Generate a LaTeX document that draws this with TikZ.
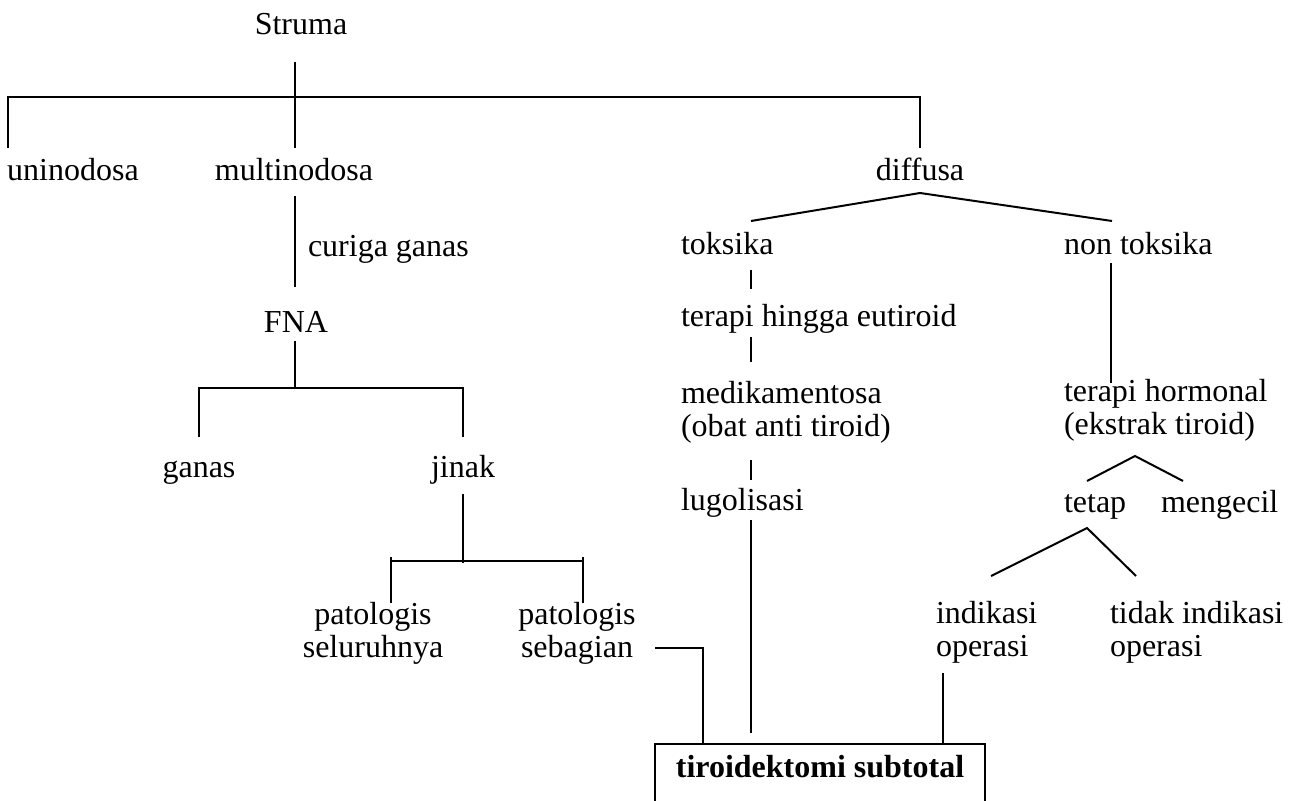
\documentclass[tikz,border=0pt]{standalone}
\usepackage{fontspec}
\setmainfont{Liberation Serif}
\begin{document}
\begin{tikzpicture}[
  x=0.5pt, y=-0.5pt,
  line width=1pt,
  every node/.style={inner sep=0pt, font=\fontsize{16pt}{16.5pt}\selectfont},
  lab/.style={anchor=base},
  labl/.style={anchor=base west, align=left},
  labc/.style={anchor=base, align=center},
  result/.style={draw, line width=1pt, anchor=base, minimum width=165pt,
    text height=16.5pt, text depth=20pt, font=\fontsize{16pt}{16.5pt}\selectfont\bfseries}]

  \useasboundingbox (0,0) rectangle (1293,801);

  % nodes (two-line nodes sit on their last line)
  \node[lab] (struma) at (301,35) {Struma};
  \node[lab] (uni) at (73,181) {uninodosa};
  \node[lab] (multi) at (294,181) {multinodosa};
  \node[lab] (diffusa) at (920,181) {diffusa};
  \node[labl] (curiga) at (307,257) {curiga ganas};
  \node[lab] (fna) at (296,333) {FNA};
  \node[lab] (ganas) at (199,477) {ganas};
  \node[lab] (jinak) at (463,477) {jinak};
  \node[labc] (pseluruh) at (373,657) {patologis\\seluruhnya};
  \node[labc] (psebagian) at (577,657) {patologis\\sebagian};
  \node[labl] (toksika) at (680,255) {toksika};
  \node[labl] (nontoksika) at (1063,255) {non toksika};
  \node[labl] (eutiroid) at (680,327) {terapi hingga eutiroid};
  \node[labl] (medika) at (680,436) {medikamentosa\\(obat anti tiroid)};
  \node[labl] (lugol) at (680,510) {lugolisasi};
  \node[labl] (hormonal) at (1063,434) {terapi hormonal\\(ekstrak tiroid)};
  \node[labl] (tetap) at (1063,512) {tetap};
  \node[labl] (mengecil) at (1160,512) {mengecil};
  \node[labl] (indikasi) at (935,656) {indikasi\\operasi};
  \node[labl] (tidak) at (1109,656) {tidak indikasi\\operasi};
  \node[result] (tiroidektomi) at (820,777) {tiroidektomi subtotal};

  % Struma
  \coordinate (s0) at (295,62);
  \coordinate (s1) at (295,148);
  \coordinate (u0) at (8,97);
  \coordinate (u1) at (8,148);
  \coordinate (d0) at (920,97);
  \coordinate (d1) at (920,148);
  \draw (s0) -- (s1);
  \draw (u1) -- (u0) -- (d0) -- (d1);

  % multinodosa
  \coordinate (m0) at (295,196);
  \coordinate (m1) at (295,287);
  \draw (m0) -- (m1);
  \coordinate (f0) at (295,341);
  \coordinate (f1) at (295,388);
  \coordinate (g0) at (199,388);
  \coordinate (g1) at (199,437);
  \coordinate (j0) at (463,388);
  \coordinate (j1) at (463,437);
  \draw (f0) -- (f1);
  \draw (g1) -- (g0) -- (j0) -- (j1);
  \coordinate (k0) at (463,494);
  \coordinate (k1) at (463,563);
  \draw (k0) -- (k1);
  \coordinate (p0) at (391,603);
  \coordinate (p1) at (391,557);
  \coordinate (q0) at (583,603);
  \coordinate (q1) at (583,557);
  \draw (p0) -- (p1);
  \draw (q0) -- (q1);
  \draw (391,561) -- (583,561);
  \coordinate (sb0) at (655,648);
  \coordinate (sb1) at (703,744);
  \draw (sb0) -| (sb1);

  % diffusa
  \coordinate (dx) at (920,193);
  \coordinate (tk) at (751,221);
  \coordinate (nt) at (1112,221);
  \draw (tk) -- (dx) -- (nt);
  \draw (751,270) -- (751,289);
  \draw (751,337) -- (751,362);
  \draw (751,460) -- (751,480);
  \draw (751,520) -- (751,733);
  \draw (1111,263) -- (1111,383);
  \coordinate (h0) at (1135,456);
  \draw (1087,481) -- (h0) -- (1183,481);
  \coordinate (h1) at (1087,528);
  \draw (991,576) -- (h1) -- (1136,576);
  \draw (943,673) -- (943,744);
\end{tikzpicture}
\end{document}
